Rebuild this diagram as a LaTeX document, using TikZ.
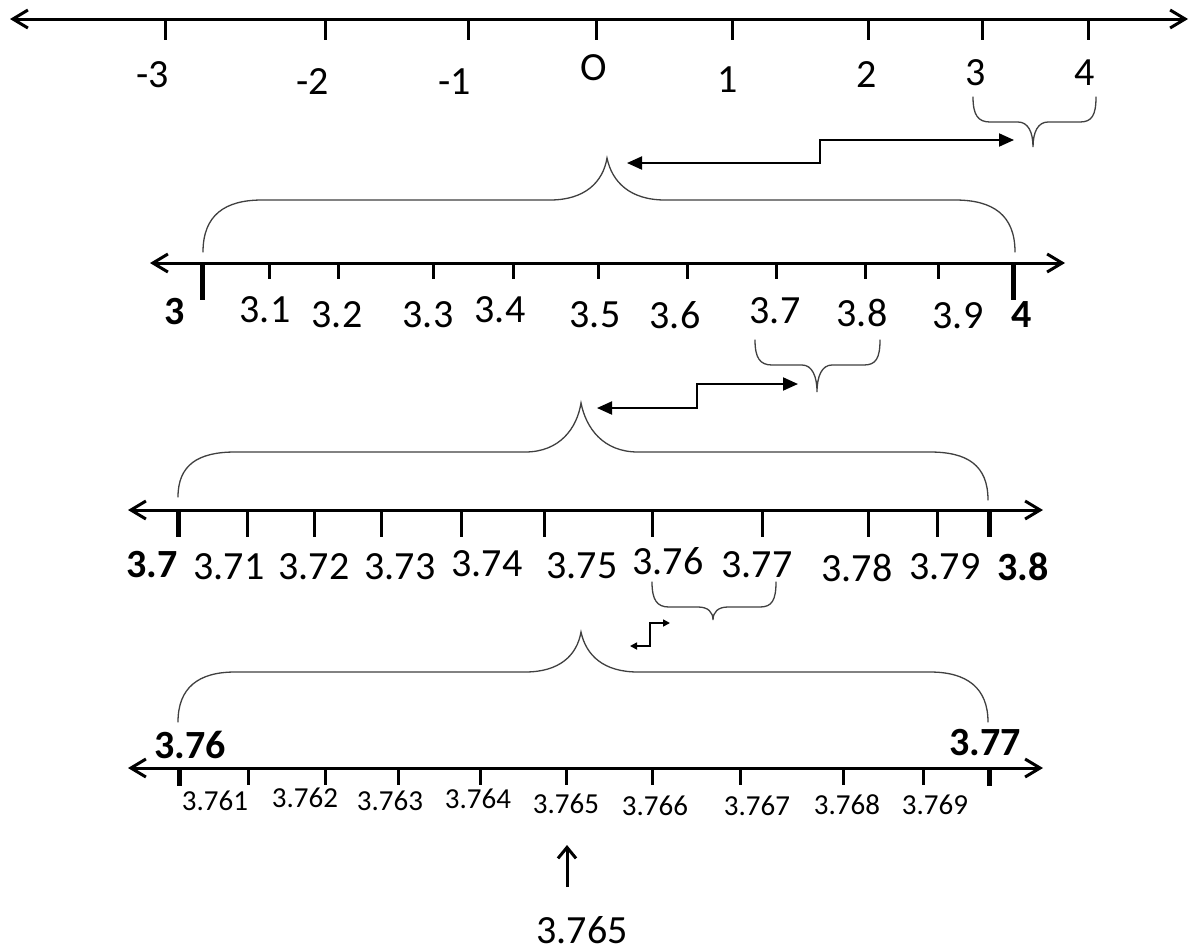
\documentclass[tikz,border=0pt]{standalone}
\usepackage{fontspec}
\setmainfont{Carlito}
\usetikzlibrary{arrows.meta}
\tikzset{
  numline/.style={line width=3pt, {Straight Barb[length=15pt,width=18pt,line width=3pt]}-{Straight Barb[length=15pt,width=18pt,line width=3pt]}},
  tick/.style={line width=3pt},
  endtick/.style={line width=5pt},
  bracepath/.style={line width=1.3pt, black!75, line cap=round},
  stepconn/.style={line width=2pt, {Triangle[length=15pt,width=13pt]}-{Triangle[length=15pt,width=13pt]}},
  tinyconn/.style={line width=1.6pt, {Triangle[length=7pt,width=7pt]}-{Triangle[length=7pt,width=7pt]}},
  lab/.style={font=\fontsize{40}{48}\selectfont, inner sep=0pt},
  blab/.style={font=\fontsize{40}{48}\selectfont\bfseries, inner sep=0pt},
  slab/.style={font=\fontsize{29}{34}\selectfont, inner sep=0pt},
}
\begin{document}
\begin{tikzpicture}[x=1pt,y=-1pt]
\fill[white] (0,0) rectangle (1193,951);
\useasboundingbox (0,0) rectangle (1193,951);

% ---------- Row 1 ----------
\coordinate (r1a) at (10,19);
\coordinate (r1b) at (1188,19);
\draw[numline] (r1a) -- (r1b);
\foreach \x in {165,325,468,596,732,868,982,1088}
  \draw[tick] (\x,19) -- (\x,40);
\foreach \x/\y/\t [count=\i] in {153/75/-3, 313/82/-2, 455/82/-1, 594/68/O, 728/80/1, 867/75/2, 976/73/3, 1085/73/4}
  \node[lab] (r1l\i) at (\x,\y) {\t};

% small brace under 3..4
\draw[bracepath] (973,97) .. controls (973,115) and (978,122) .. (990,122) -- (1018,122)
  .. controls (1028,122) and (1033,132) .. (1033,147)
  .. controls (1033,132) and (1038,122) .. (1048,122) -- (1080,122)
  .. controls (1092,122) and (1096,115) .. (1096,97);

% step connector 1
\coordinate (s1a) at (627,163);
\coordinate (s1m) at (820,150);
\coordinate (s1b) at (1014,140);
\draw[stepconn] (s1a) -| (s1m) |- (s1b);

% big brace 2
\draw[bracepath] (203,252) .. controls (203,215) and (225,200) .. (262,200) -- (550,200)
  .. controls (585,200) and (603,182) .. (607,158)
  .. controls (612,182) and (630,200) .. (665,200) -- (955,200)
  .. controls (993,200) and (1015,215) .. (1015,252);

% ---------- Row 2 ----------
\coordinate (r2a) at (150,263);
\coordinate (r2b) at (1065,263);
\draw[numline] (r2a) -- (r2b);
\draw[endtick] (202,263) -- (202,300);
\draw[endtick] (1013,263) -- (1013,300);
\foreach \x in {269,338,433,513,598,687,776,865,938}
  \draw[tick] (\x,263) -- (\x,279);
\node[blab] (r2l0) at (175,312) {3};
\foreach \x/\y/\t [count=\i] in {265/310/3.1, 337/315/3.2, 428/315/3.3, 500/310/3.4, 595/315/3.5, 675/315/3.6, 775/311/3.7, 862/313/3.8, 958/316/3.9}
  \node[lab] (r2l\i) at (\x,\y) {\t};
\node[blab] (r2l10) at (1022,315) {4};

% small brace under 3.7..3.8
\draw[bracepath] (755,340) .. controls (755,358) and (760,365) .. (772,365) -- (802,365)
  .. controls (812,365) and (817,376) .. (817,392)
  .. controls (817,376) and (822,365) .. (832,365) -- (864,365)
  .. controls (876,365) and (880,358) .. (880,340);

% step connector 2
\coordinate (s2a) at (597,408);
\coordinate (s2m) at (697,396);
\coordinate (s2b) at (798,384);
\draw[stepconn] (s2a) -| (s2m) |- (s2b);

% big brace 3
\draw[bracepath] (178,497) .. controls (178,465) and (198,452) .. (235,452) -- (525,452)
  .. controls (560,452) and (577,428) .. (581,403)
  .. controls (586,428) and (603,452) .. (638,452) -- (930,452)
  .. controls (967,452) and (988,465) .. (988,500);

% ---------- Row 3 ----------
\coordinate (r3a) at (128,510);
\coordinate (r3b) at (1043,510);
\draw[numline] (r3a) -- (r3b);
\draw[endtick] (178,510) -- (178,537);
\draw[endtick] (989,510) -- (989,537);
\foreach \x in {247,314,381,461,544,652,762,868,937}
  \draw[tick] (\x,510) -- (\x,537);
\node[blab] (r3l0) at (152,565) {3.7};
\foreach \x/\y/\t [count=\i] in {229/567/3.71, 314/567/3.72, 400/567/3.73, 487/564/3.74, 582/566/3.75, 668/561/3.76, 757/565/3.77, 857/568/3.78, 945/567/3.79}
  \node[lab] (r3l\i) at (\x,\y) {\t};
\node[blab] (r3l10) at (1023,567) {3.8};

% small brace under 3.76..3.77
\draw[bracepath] (652,582) .. controls (652,600) and (657,607) .. (669,607) -- (698,607)
  .. controls (708,607) and (713,612) .. (713,620)
  .. controls (713,612) and (718,607) .. (728,607) -- (760,607)
  .. controls (772,607) and (776,600) .. (776,582);

% tiny step connector 3
\coordinate (s3a) at (630,646);
\coordinate (s3m) at (650,634);
\coordinate (s3b) at (670,623);
\draw[tinyconn] (s3a) -| (s3m) |- (s3b);

% big brace 4
\draw[bracepath] (178,722) .. controls (178,688) and (198,672) .. (235,672) -- (525,672)
  .. controls (560,672) and (577,655) .. (581,632)
  .. controls (586,655) and (603,672) .. (638,672) -- (930,672)
  .. controls (967,672) and (988,688) .. (988,722);

% ---------- Row 4 ----------
\node[blab] (r4s) at (190,745) {3.76};
\node[blab] (r4e) at (985,743) {3.77};
\coordinate (r4a) at (128,768);
\coordinate (r4b) at (1043,768);
\draw[numline] (r4a) -- (r4b);
\draw[endtick] (179,768) -- (179,786);
\draw[endtick] (989,768) -- (989,786);
\foreach \x in {248,325,398,480,566,652,740,843,923}
  \draw[tick] (\x,768) -- (\x,785);
\foreach \x/\y/\t [count=\i] in {215/801/3.761, 305/798/3.762, 390/801/3.763, 478/799/3.764, 566/804/3.765, 655/806/3.766, 757/806/3.767, 847/805/3.768, 935/805/3.769}
  \node[slab] (r4l\i) at (\x,\y) {\t};

% pointer
\node[lab] (ans) at (582,930) {3.765};
\coordinate (ptop) at (567,845);
\coordinate (pbot) at (567,887);
\draw[line width=3pt, -{Straight Barb[length=11pt,width=18pt,line width=3pt]}] (pbot) -- (ptop);
\end{tikzpicture}
\end{document}
